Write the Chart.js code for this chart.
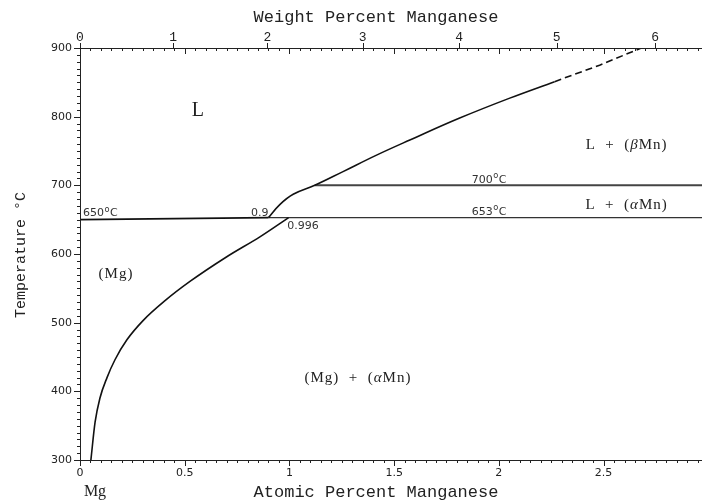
<!DOCTYPE html>
<html>
<head>
<meta charset="utf-8">
<script src="https://cdn.jsdelivr.net/npm/chart.js@4"></script>
<style>
  html, body { margin: 0; padding: 0; background: #fff; }
  #wrap { width: 703px; height: 502px; }
</style>
</head>
<body>
<div id="wrap"><canvas id="mgmn" width="703" height="502"></canvas></div>
<script>
// Mg-Mn phase diagram, Mg-rich corner
const xMin = 0, xMax = 2.97;
const yMin = 300, yMax = 900;

// (Mg) solvus
const solvusX = [0.052, 0.072, 0.095, 0.129, 0.167, 0.224, 0.301, 0.406, 0.525, 0.701, 0.859, 0.996];
const solvusT = [300, 355, 390, 420, 446, 475, 503, 532, 560, 596, 625, 653];

// liquidus, solid part then dashed extension
const liquidusX = [0.9, 0.954, 1.018, 1.121, 1.256, 1.416, 1.575, 1.813, 2.052, 2.266];
const liquidusT = [653, 672, 687, 700, 720, 744, 766, 798, 827, 851];
const liquidusDashX = [2.266, 2.481, 2.680];
const liquidusDashT = [851, 875, 900];

// Mg melting point up to the peritectic liquid
const meltX = [0, 0.9];
const meltT = [650, 653];

// invariant lines
const peritecticX = [0.9, xMax];
const peritecticT = [653, 653];
const betaAlphaX = [1.121, xMax];
const betaAlphaT = [700, 700];

// axis ticks
const atTicks = [0, 0.5, 1, 1.5, 2, 2.5];
const atTickLabels = ['0', '0.5', '1', '1.5', '2', '2.5'];
const wtTicks = [0, 1, 2, 3, 4, 5, 6];
const tempTicks = [300, 400, 500, 600, 700, 800, 900];

const M_MN = 54.938, M_MG = 24.305;
function wtToAt(w) {
    const a = w / M_MN, b = (100 - w) / M_MG;
    return 100 * a / (a + b);
}

function pts(xs, ys) {
    return xs.map((x, i) => ({ x: x, y: ys[i] }));
}

function line(xs, ys, opts) {
    return Object.assign({
        data: pts(xs, ys),
        showLine: true,
        pointRadius: 0,
        borderColor: '#111',
        borderWidth: 1.6,
        fill: false
    }, opts || {});
}

// draws "650°C" style text with a raised small o
function degText(ctx, num, x, y, size) {
    ctx.font = size + 'px "DejaVu Sans"';
    const w1 = ctx.measureText(num).width;
    ctx.font = (size * 0.75) + 'px "DejaVu Sans"';
    const w2 = ctx.measureText('o').width;
    ctx.textAlign = 'left';
    ctx.textBaseline = 'middle';
    ctx.font = size + 'px "DejaVu Sans"';
    ctx.fillText(num, x, y);
    ctx.font = (size * 0.75) + 'px "DejaVu Sans"';
    ctx.fillText('o', x + w1 + 0.5, y - size * 0.35);
    ctx.font = size + 'px "DejaVu Sans"';
    ctx.fillText('C', x + w1 + w2 + 1, y);
}

// phase label with the greek letter in italics
function phaseText(ctx, parts, cx, cy, size) {
    ctx.textBaseline = 'middle';
    ctx.textAlign = 'left';
    ctx.letterSpacing = '1px';
    let total = 0;
    const widths = parts.map(p => {
        ctx.font = (p[1] ? 'italic ' : '') + size + 'px "Liberation Serif"';
        const w = ctx.measureText(p[0]).width;
        total += w;
        return w;
    });
    let x = cx - total / 2;
    parts.forEach((p, i) => {
        ctx.font = (p[1] ? 'italic ' : '') + size + 'px "Liberation Serif"';
        ctx.fillText(p[0], x, cy);
        x += widths[i];
    });
    ctx.letterSpacing = '0px';
}

const axesPlugin = {
    id: 'phaseAxes',
    afterDraw(chart) {
        const ctx = chart.ctx;
        const xs = chart.scales.x, ys = chart.scales.y;
        const area = chart.chartArea;
        const X = v => xs.getPixelForValue(v);
        const Y = v => ys.getPixelForValue(v);
        ctx.save();
        ctx.strokeStyle = '#222';
        ctx.fillStyle = '#222';
        ctx.lineWidth = 1;

        // frame lines
        ctx.beginPath();
        ctx.moveTo(area.left + 0.5, area.top);
        ctx.lineTo(area.left + 0.5, area.bottom);
        ctx.moveTo(area.left, area.bottom + 0.5);
        ctx.lineTo(area.right, area.bottom + 0.5);
        ctx.moveTo(area.left, area.top + 0.5);
        ctx.lineTo(area.right, area.top + 0.5);
        ctx.stroke();

        // temperature ticks, every 10 degrees
        ctx.beginPath();
        for (let t = yMin; t <= yMax; t += 10) {
            const len = t % 100 === 0 ? 6 : 3;
            const py = Math.round(Y(t)) + 0.5;
            ctx.moveTo(area.left - len, py);
            ctx.lineTo(area.left, py);
        }
        // atomic percent ticks, bottom (outside) and top (inside)
        for (let i = 0; i * 0.05 <= xMax + 1e-9; i++) {
            const v = i * 0.05;
            const len = i % 10 === 0 ? 6 : 3;
            const px = Math.round(X(v)) + 0.5;
            ctx.moveTo(px, area.bottom);
            ctx.lineTo(px, area.bottom + len);
            ctx.moveTo(px, area.top);
            ctx.lineTo(px, area.top + len);
        }
        // weight percent ticks on top, outward
        wtTicks.forEach(w => {
            const px = Math.round(X(wtToAt(w))) + 0.5;
            ctx.moveTo(px, area.top - 5);
            ctx.lineTo(px, area.top);
        });
        ctx.stroke();

        // tick labels
        ctx.font = '11px "DejaVu Sans"';
        ctx.textAlign = 'right';
        ctx.textBaseline = 'middle';
        tempTicks.forEach(t => ctx.fillText(String(t), area.left - 8, Y(t)));

        ctx.textAlign = 'center';
        ctx.textBaseline = 'top';
        atTicks.forEach((v, i) => ctx.fillText(atTickLabels[i], X(v), area.bottom + 8));

        ctx.font = '13px "Liberation Mono"';
        ctx.textBaseline = 'alphabetic';
        wtTicks.forEach(w => ctx.fillText(String(w), X(wtToAt(w)), area.top - 7));

        // axis titles
        ctx.font = '17px "Liberation Mono"';
        ctx.textAlign = 'center';
        ctx.textBaseline = 'middle';
        ctx.fillText('Weight Percent Manganese', (area.left + area.right) / 2 - 15, 17);
        ctx.fillText('Atomic Percent Manganese', (area.left + area.right) / 2 - 15, 492);

        ctx.save();
        ctx.translate(21, 255);
        ctx.rotate(-Math.PI / 2);
        ctx.font = '15px "Liberation Mono"';
        ctx.fillText('Temperature °C', 0, 0);
        ctx.restore();

        ctx.font = '16px "Liberation Serif"';
        ctx.fillText('Mg', area.left + 15, 492);

        // field labels
        ctx.font = '20px "Liberation Serif"';
        ctx.textAlign = 'center';
        ctx.fillText('L', X(0.563), Y(808));
        phaseText(ctx, [['L  +  (', false], ['β', true], ['Mn)', false]], X(2.61), Y(759), 15);
        phaseText(ctx, [['L  +  (', false], ['α', true], ['Mn)', false]], X(2.61), Y(671), 15);
        phaseText(ctx, [['(Mg)', false]], X(0.172), Y(571), 15);
        phaseText(ctx, [['(Mg)  +  (', false], ['α', true], ['Mn)', false]], X(1.327), Y(419), 15);

        // invariant temperatures and compositions
        ctx.fillStyle = '#333';
        degText(ctx, '650', X(0.014), Y(659), 11);
        degText(ctx, '700', X(1.87), Y(708), 11);
        degText(ctx, '653', X(1.87), Y(661), 11);
        ctx.font = '11px "DejaVu Sans"';
        ctx.textAlign = 'right';
        ctx.textBaseline = 'middle';
        ctx.fillText('0.9', X(0.9), Y(659));
        ctx.textAlign = 'left';
        ctx.fillText('0.996', X(0.99), Y(641));
        ctx.restore();
    }
};

new Chart(document.getElementById('mgmn'), {
    type: 'scatter',
    data: {
        datasets: [
            line(solvusX, solvusT, { cubicInterpolationMode: 'monotone' }),
            line(liquidusX, liquidusT, { tension: 0.4 }),
            line(liquidusDashX, liquidusDashT, { borderDash: [7, 4] }),
            line(meltX, meltT, { borderWidth: 1.8 }),
            line(peritecticX, peritecticT, { borderWidth: 1.1, borderColor: '#333' }),
            line(betaAlphaX, betaAlphaT, { borderWidth: 2, borderColor: '#444' })
        ]
    },
    options: {
        responsive: false,
        animation: false,
        devicePixelRatio: 1,
        layout: { padding: { left: 80, top: 48, right: 1, bottom: 42 } },
        scales: {
            x: { type: 'linear', min: xMin, max: xMax, display: false },
            y: { type: 'linear', min: yMin, max: yMax, display: false }
        },
        plugins: {
            legend: { display: false },
            tooltip: { enabled: false }
        }
    },
    plugins: [axesPlugin]
});
</script>
</body>
</html>
